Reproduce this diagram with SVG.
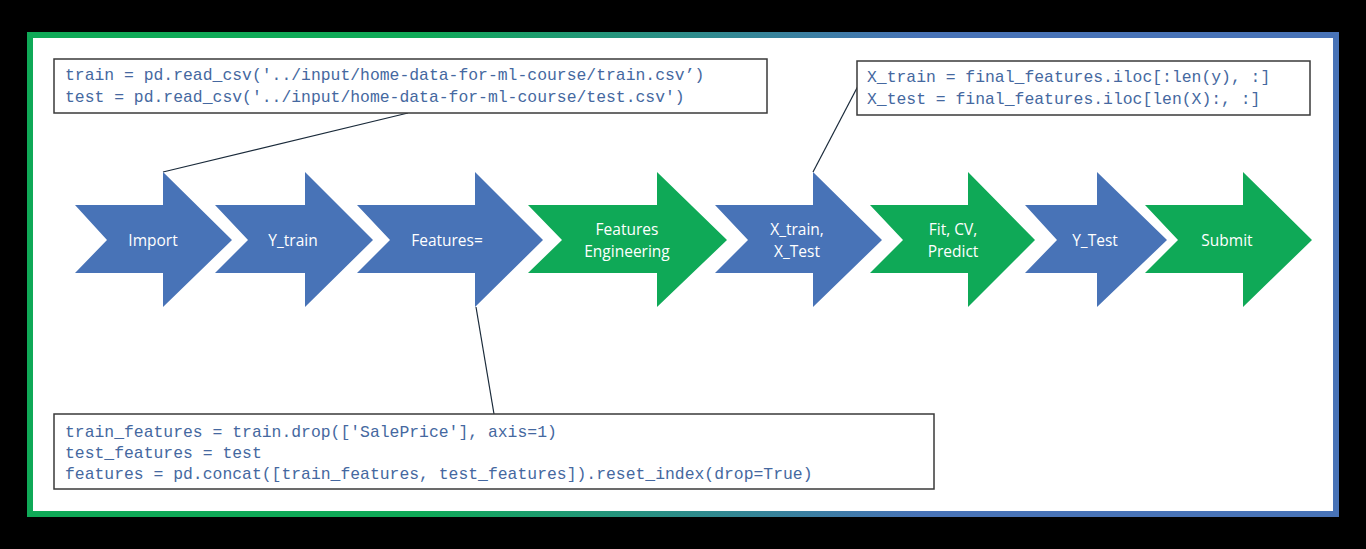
<svg xmlns="http://www.w3.org/2000/svg" width="1366" height="549" viewBox="0 0 1366 549">
<defs>
<linearGradient id="frameGrad" x1="0" y1="0" x2="1" y2="0">
<stop offset="0" stop-color="#0fa957"/>
<stop offset="0.3" stop-color="#0fa957"/>
<stop offset="0.68" stop-color="#4873b7"/>
<stop offset="1" stop-color="#4873b7"/>
</linearGradient>
<style>
.blue{fill:#4873b7}
.green{fill:#0fa957}
.lbl{fill:#ffffff;font-family:"Open Sans","Noto Sans","Liberation Sans",sans-serif;font-size:15.5px;text-anchor:middle}
.box{fill:#ffffff;stroke:#3a3a3a;stroke-width:1.5}
.code{fill:#4568a0;font-family:"Liberation Mono","Courier New",monospace;font-size:16.4px;white-space:pre}
.conn{stroke:#1a2a3a;stroke-width:1.2;fill:none}
</style>
</defs>
<rect x="0" y="0" width="1366" height="549" fill="#000000"/>
<rect x="30" y="35" width="1306" height="479" fill="#ffffff" stroke="url(#frameGrad)" stroke-width="6"/>

<g id="connectors">
<line class="conn" x1="408" y1="113" x2="163" y2="172"/>
<line class="conn" x1="858" y1="86" x2="813" y2="172"/>
<line class="conn" x1="476" y1="307" x2="494" y2="414"/>
</g>

<g id="node-import">
<polygon class="blue" points="75,205 163,205 163,172 232,240 163,307 163,273 75,273 107,240"/>
<text class="lbl" x="153" y="246">Import</text>
</g>
<g id="node-ytrain">
<polygon class="blue" points="215,205 305,205 305,172 373,240 305,307 305,273 215,273 248,240"/>
<text class="lbl" x="293" y="246">Y_train</text>
</g>
<g id="node-features">
<polygon class="blue" points="357,205 475,205 475,172 543,240 475,307 475,273 357,273 390,240"/>
<text class="lbl" x="447" y="246">Features=</text>
</g>
<g id="node-feateng">
<polygon class="green" points="528,205 657,205 657,172 727,240 657,307 657,273 528,273 562,240"/>
<text class="lbl" x="627" y="235">Features</text>
<text class="lbl" x="627" y="257">Engineering</text>
</g>
<g id="node-xtrain">
<polygon class="blue" points="715,205 813,205 813,172 882,240 813,307 813,273 715,273 748,240"/>
<text class="lbl" x="797" y="235">X_train,</text>
<text class="lbl" x="797" y="257">X_Test</text>
</g>
<g id="node-fit">
<polygon class="green" points="870,205 968,205 968,172 1035,240 968,307 968,273 870,273 903,240"/>
<text class="lbl" x="953" y="235">Fit, CV,</text>
<text class="lbl" x="953" y="257">Predict</text>
</g>
<g id="node-ytest">
<polygon class="blue" points="1025,205 1097,205 1097,172 1167,240 1097,307 1097,273 1025,273 1057,240"/>
<text class="lbl" x="1095" y="246">Y_Test</text>
</g>
<g id="node-submit">
<polygon class="green" points="1145,205 1243,205 1243,172 1312,240 1243,307 1243,273 1145,273 1178,240"/>
<text class="lbl" x="1227" y="246">Submit</text>
</g>

<g id="note-import">
<rect class="box" x="54" y="59" width="713" height="54"/>
<text class="code" x="65" y="80">train = pd.read_csv('../input/home-data-for-ml-course/train.csv’)</text>
<text class="code" x="65" y="102">test = pd.read_csv('../input/home-data-for-ml-course/test.csv')</text>
</g>
<g id="note-xtrain">
<rect class="box" x="857" y="61" width="453" height="54"/>
<text class="code" x="867" y="82">X_train = final_features.iloc[:len(y), :]</text>
<text class="code" x="867" y="104">X_test = final_features.iloc[len(X):, :]</text>
</g>
<g id="note-features">
<rect class="box" x="54" y="414" width="880" height="75"/>
<text class="code" x="65" y="437">train_features = train.drop(['SalePrice'], axis=1)</text>
<text class="code" x="65" y="458">test_features = test</text>
<text class="code" x="65" y="479">features = pd.concat([train_features, test_features]).reset_index(drop=True)</text>
</g>
</svg>
